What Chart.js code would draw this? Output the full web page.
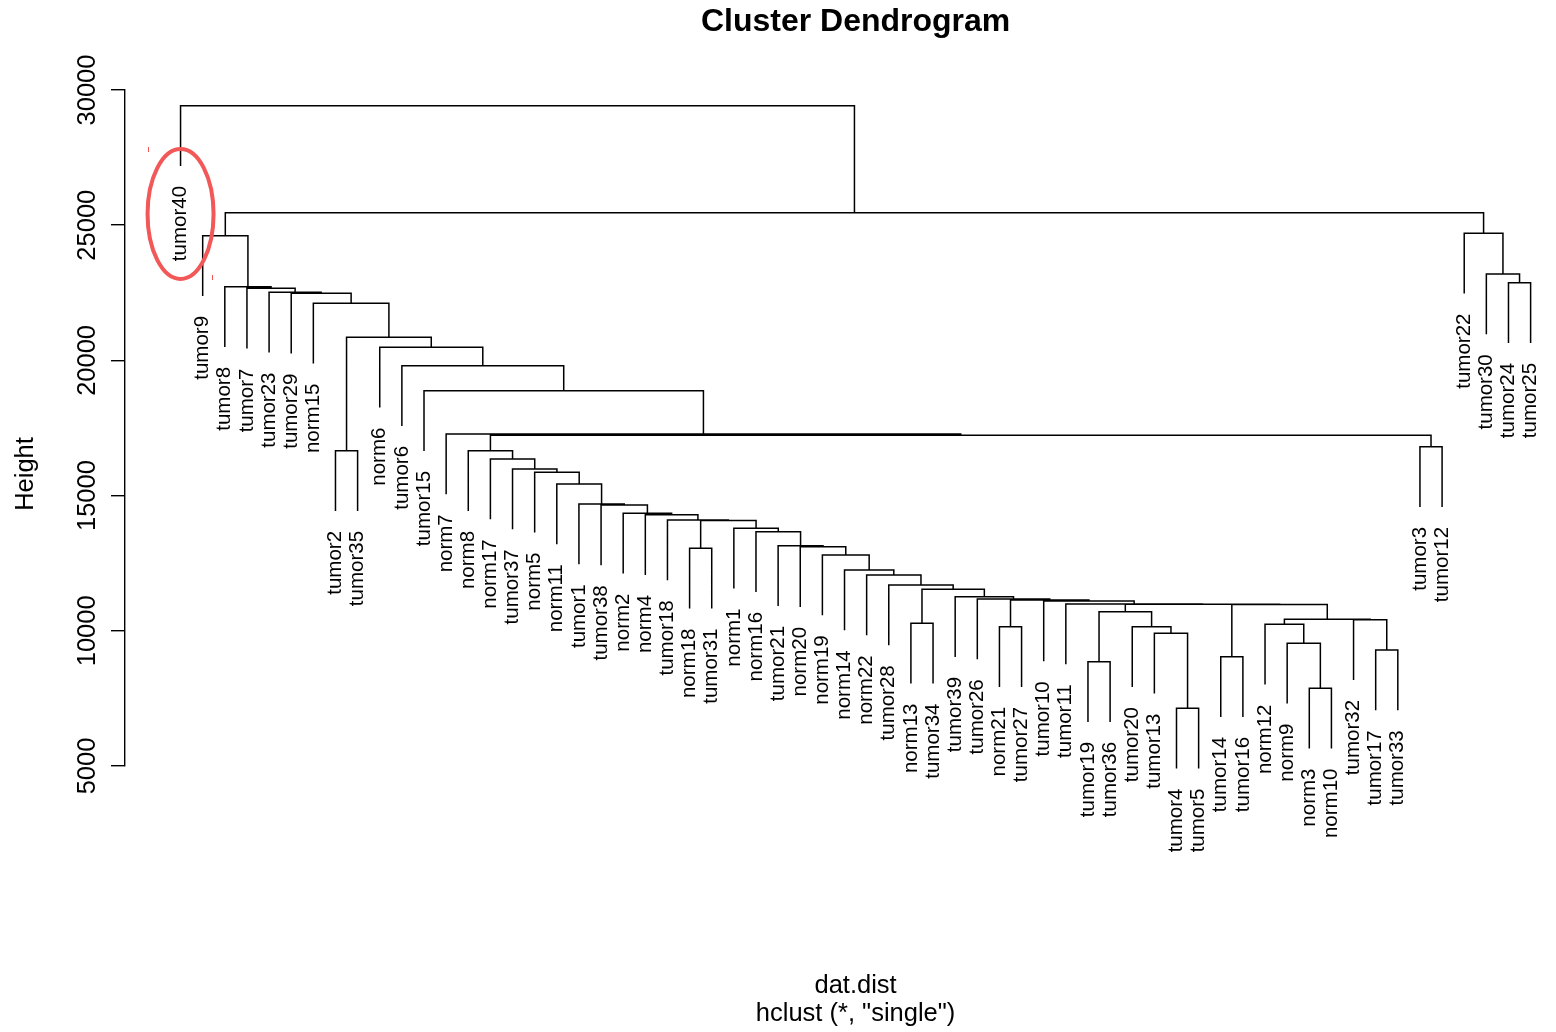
<!DOCTYPE html>
<html>
<head>
<meta charset="utf-8">
<title>Cluster Dendrogram</title>
<script src="https://cdn.jsdelivr.net/npm/chart.js@4.4.1/dist/chart.umd.min.js"></script>
<style>
  body { margin: 0; background: #fff; }
</style>
</head>
<body>
<canvas id="myChart" width="1556" height="1032"></canvas>
<script>
// leaf order as plotted, left to right
const leafOrder = [
    'tumor40', 'tumor9', 'tumor8', 'tumor7', 'tumor23', 'tumor29', 'norm15', 'tumor2', 'tumor35',
    'norm6', 'tumor6', 'tumor15', 'norm7', 'norm8', 'norm17', 'tumor37', 'norm5', 'norm11',
    'tumor1', 'tumor38', 'norm2', 'norm4', 'tumor18', 'norm18', 'tumor31', 'norm1', 'norm16',
    'tumor21', 'norm20', 'norm19', 'norm14', 'norm22', 'tumor28', 'norm13', 'tumor34', 'tumor39',
    'tumor26', 'norm21', 'tumor27', 'tumor10', 'tumor11', 'tumor19', 'tumor36', 'tumor20', 'tumor13',
    'tumor4', 'tumor5', 'tumor14', 'tumor16', 'norm12', 'norm9', 'norm3', 'norm10', 'tumor32',
    'tumor17', 'tumor33', 'tumor3', 'tumor12', 'tumor22', 'tumor30', 'tumor24', 'tumor25'
];

// merge steps: [left, right, height]; a string is a leaf, a number is an earlier step
const merges = [
    ['tumor24', 'tumor25', 22874],
    ['tumor30', 0, 23195],
    ['tumor22', 1, 24700],
    ['tumor3', 'tumor12', 16809],
    ['tumor2', 'tumor35', 16661],
    ['norm18', 'tumor31', 13051],
    ['norm13', 'tumor34', 10277],
    ['norm21', 'tumor27', 10152],
    ['tumor19', 'tumor36', 8857],
    ['tumor4', 'tumor5', 7134],
    ['tumor13', 9, 9907],
    ['tumor20', 10, 10150],
    [8, 11, 10707],
    ['tumor14', 'tumor16', 9042],
    ['norm3', 'norm10', 7874],
    ['norm9', 14, 9538],
    ['norm12', 15, 10240],
    ['tumor17', 'tumor33', 9290],
    ['tumor32', 17, 10410],
    [16, 18, 10425],
    [13, 19, 10970],
    [12, 20, 10980],
    ['tumor11', 21, 10990],
    ['tumor10', 22, 11102],
    [7, 23, 11139],
    ['tumor26', 24, 11176],
    ['tumor39', 25, 11261],
    [6, 26, 11535],
    ['tumor28', 27, 11694],
    ['norm22', 28, 12064],
    ['norm14', 29, 12249],
    ['norm19', 30, 12803],
    ['norm20', 31, 13110],
    ['tumor21', 32, 13147],
    ['norm16', 33, 13665],
    ['norm1', 34, 13791],
    [5, 35, 14079],
    ['tumor18', 36, 14097],
    ['norm4', 37, 14294],
    ['norm2', 38, 14345],
    ['tumor38', 39, 14652],
    ['tumor1', 40, 14689],
    ['norm11', 41, 15429],
    ['norm5', 42, 15862],
    ['tumor37', 43, 15984],
    ['norm17', 44, 16354],
    ['norm8', 45, 16661],
    [46, 3, 17230],
    ['norm7', 47, 17278],
    ['tumor15', 48, 18880],
    ['tumor6', 49, 19804],
    ['norm6', 50, 20484],
    [4, 51, 20854],
    ['norm15', 52, 22112],
    ['tumor29', 53, 22480],
    ['tumor23', 54, 22520],
    ['tumor7', 55, 22666],
    ['tumor8', 56, 22726],
    ['tumor9', 57, 24612],
    [58, 2, 25462],
    ['tumor40', 59, 29419]
];

const heightTicks = [5000, 10000, 15000, 20000, 25000, 30000];

const FONT = '"Liberation Sans", Arial, Helvetica, sans-serif';

// build the segments the way plot.hclust does (labels hang 10% of the height range)
const heights = merges.map(m => m[2]);
const hang = 0.1 * (Math.max(...heights) - Math.min(...heights));
const leafIndex = {};
leafOrder.forEach((name, i) => { leafIndex[name] = i; });
const nodeX = [];
const leafEnd = {};
const segments = [];

merges.forEach((m, k) => {
    const h = m[2];
    const ends = [m[0], m[1]].map(c => {
        if (typeof c === 'string') {
            leafEnd[c] = h - hang;
            return { x: leafIndex[c], y: h - hang };
        }
        return { x: nodeX[c], y: merges[c][2] };
    });
    nodeX[k] = (ends[0].x + ends[1].x) / 2;
    segments.push(
        { x: ends[0].x, y: ends[0].y },
        { x: ends[0].x, y: h },
        { x: ends[1].x, y: h },
        { x: ends[1].x, y: ends[1].y },
        { x: ends[1].x, y: null }
    );
});

const textPlugin = {
    id: 'hclustText',
    afterDraw(chart) {
        const ctx = chart.ctx;
        const xs = chart.scales.x;
        const ys = chart.scales.y;
        const midX = xs.getPixelForValue((leafOrder.length - 1) / 2);
        ctx.save();
        ctx.fillStyle = '#000';

        // leaf labels
        ctx.font = '20.5px ' + FONT;
        ctx.textAlign = 'right';
        ctx.textBaseline = 'middle';
        leafOrder.forEach((name, i) => {
            ctx.save();
            ctx.translate(xs.getPixelForValue(i), ys.getPixelForValue(leafEnd[name]) + 20);
            ctx.rotate(-Math.PI / 2);
            ctx.fillText(name, 0, 0);
            ctx.restore();
        });

        // y tick labels
        ctx.font = '25.5px ' + FONT;
        ctx.textAlign = 'center';
        ctx.textBaseline = 'alphabetic';
        heightTicks.forEach(v => {
            ctx.save();
            ctx.translate(95, ys.getPixelForValue(v));
            ctx.rotate(-Math.PI / 2);
            ctx.fillText(String(v), 0, 0);
            ctx.restore();
        });

        // y axis title
        ctx.save();
        ctx.translate(33, 474);
        ctx.rotate(-Math.PI / 2);
        ctx.fillText('Height', 0, 0);
        ctx.restore();

        // main title and x labels
        ctx.font = 'bold 32px ' + FONT;
        ctx.fillText('Cluster Dendrogram', midX, 31);
        ctx.font = '25.5px ' + FONT;
        ctx.fillText('dat.dist', midX, 993);
        ctx.fillText('hclust (*, "single")', midX, 1021);

        // red ellipse marking tumor40
        const ex = xs.getPixelForValue(0);
        ctx.strokeStyle = 'rgb(242, 88, 88)';
        ctx.lineWidth = 4;
        ctx.beginPath();
        ctx.ellipse(ex, 214, 33, 65, 0, 0, 2 * Math.PI);
        ctx.stroke();
        ctx.lineWidth = 1;
        ctx.beginPath();
        ctx.moveTo(148.5, 147); ctx.lineTo(148.5, 152);
        ctx.moveTo(212.5, 275); ctx.lineTo(212.5, 280);
        ctx.stroke();
        ctx.restore();
    }
};

const ctx = document.getElementById('myChart').getContext('2d');
const myChart = new Chart(ctx, {
    type: 'line',
    data: {
        datasets: [{
            label: 'dendrogram',
            data: segments,
            borderColor: '#000',
            borderWidth: 1.5,
            pointRadius: 0,
            tension: 0,
            spanGaps: false,
            clip: false
        }]
    },
    options: {
        responsive: false,
        animation: false,
        devicePixelRatio: 1,
        layout: { padding: { top: 90, bottom: 266, left: 0, right: 11 } },
        plugins: {
            legend: { display: false },
            tooltip: { enabled: false },
            title: { display: false }
        },
        scales: {
            x: {
                type: 'linear',
                display: false,
                min: -2.51,
                max: 61.65
            },
            y: {
                type: 'linear',
                min: 5000,
                max: 30000,
                afterBuildTicks: s => { s.ticks = heightTicks.map(v => ({ value: v })); },
                afterFit: s => { s.width = 125; },
                grid: {
                    display: true,
                    drawOnChartArea: false,
                    drawTicks: true,
                    tickLength: 14,
                    color: '#000',
                    lineWidth: 1.4
                },
                border: { display: true, color: '#000', width: 1.4 },
                ticks: { display: false }
            }
        }
    },
    plugins: [textPlugin]
});
</script>
</body>
</html>
